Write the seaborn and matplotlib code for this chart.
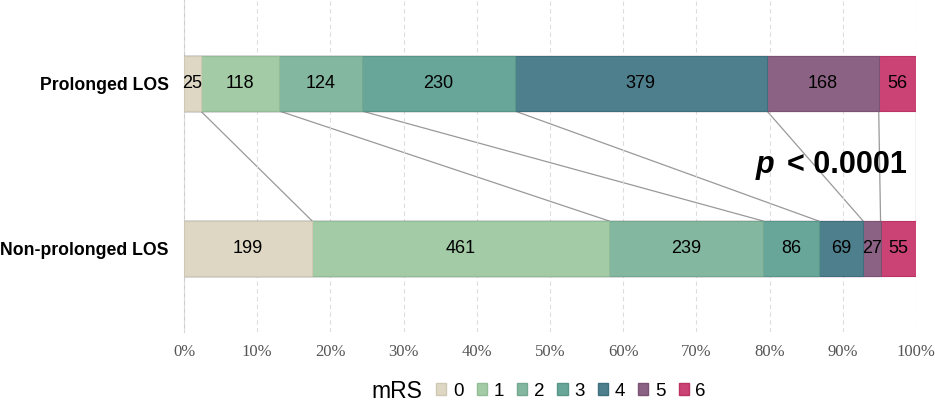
import matplotlib
matplotlib.use("Agg")
import matplotlib.pyplot as plt
from matplotlib.patches import Patch
import numpy as np
import pandas as pd
import seaborn as sns

# data
groups = ["Prolonged LOS", "Non-prolonged LOS"]
mrs_levels = ["0", "1", "2", "3", "4", "5", "6"]
prolonged = [25, 118, 124, 230, 379, 168, 56]
non_prolonged = [199, 461, 239, 86, 69, 27, 55]
colors = ["#ddd7c4", "#a3cba6", "#84b7a0", "#68a69a", "#4e7f8d", "#8c6284", "#cb4375"]
edges = ["#cfc8b3", "#93bd97", "#74a890", "#58968a", "#3e6f7d", "#7c5274", "#bb3365"]

counts = pd.DataFrame([prolonged, non_prolonged], index=groups, columns=mrs_levels)
pct = counts.div(counts.sum(axis=1), axis=0) * 100
cum = pct.cumsum(axis=1)

sns.set_style("white")
plt.rcParams['font.family'] = ['Liberation Sans', 'DejaVu Sans']
plt.rcParams['text.color'] = 'black'

fig = plt.figure(figsize=(9.35, 4.01), dpi=100)
ax = fig.add_axes([184 / 935, 1 - 332 / 401, 732 / 935, 332 / 401])

bar_h = 0.333
# draw cumulative bars from the last level backwards so they stack
for i in range(len(mrs_levels) - 1, -1, -1):
    lvl = mrs_levels[i]
    d = pd.DataFrame({"group": groups, "right": cum[lvl].values})
    sns.barplot(data=d, x="right", y="group", orient="h", color=colors[i],
                width=bar_h, saturation=1, edgecolor=edges[i], linewidth=0.8, ax=ax)

# count labels
for gi, g in enumerate(groups):
    left = 0
    for i, lvl in enumerate(mrs_levels):
        w = pct.loc[g, lvl]
        ax.text(left + w / 2, gi, str(counts.loc[g, lvl]), ha="center", va="center",
                fontsize=13, color="black")
        left += w

# connector lines between cumulative boundaries
for lvl in mrs_levels:
    ax.plot([cum.loc[groups[0], lvl], cum.loc[groups[1], lvl]],
            [0 + bar_h / 2, 1 - bar_h / 2], color="#999999", lw=0.9, zorder=0.5)

ax.set_xlim(0, 100)
ax.set_ylim(1.506, -0.506)
ax.set_xticks(np.arange(0, 101, 10))
ax.set_xticklabels([f"{v}%" for v in range(0, 101, 10)], family="Liberation Serif",
                   fontsize=12, color="#555555")
ax.set_yticks([0, 1])
ax.set_yticklabels(groups, fontweight="bold", fontsize=12.7, color="black")
ax.tick_params(axis="both", length=0)
ax.tick_params(axis="x", pad=9)
ax.tick_params(axis="y", pad=11)
ax.set_xlabel("")
ax.set_ylabel("")
ax.xaxis.grid(True, linestyle=(0, (4, 3)), color="#dddddd", lw=0.8)
ax.set_axisbelow(True)
for s in ["top", "right", "bottom"]:
    ax.spines[s].set_visible(False)
ax.spines["left"].set_color("#cccccc")
ax.spines["left"].set_zorder(0.4)

# p value
fig.text(756 / 935, 1 - 165 / 401, "p", fontsize=22, fontweight="bold", style="italic",
         ha="left", va="center", color="black")
fig.text(907 / 935, 1 - 165 / 401, "< 0.0001", fontsize=22, fontweight="bold",
         ha="right", va="center", color="black")

# legend
fig.text(397 / 935, 1 - 391 / 401, "mRS", fontsize=16.5, ha="center", va="center",
         color="black")
handles = [Patch(facecolor=c, edgecolor=e) for c, e in zip(colors, edges)]
fig.legend(handles, mrs_levels, loc="center", bbox_to_anchor=(571 / 935, 1 - 391 / 401),
           ncol=7, frameon=False, handlelength=0.55, handleheight=0.55, handletextpad=0.35,
           columnspacing=0.7, borderpad=0, prop={"size": 13.5})

fig.savefig("out.png", dpi=100)
